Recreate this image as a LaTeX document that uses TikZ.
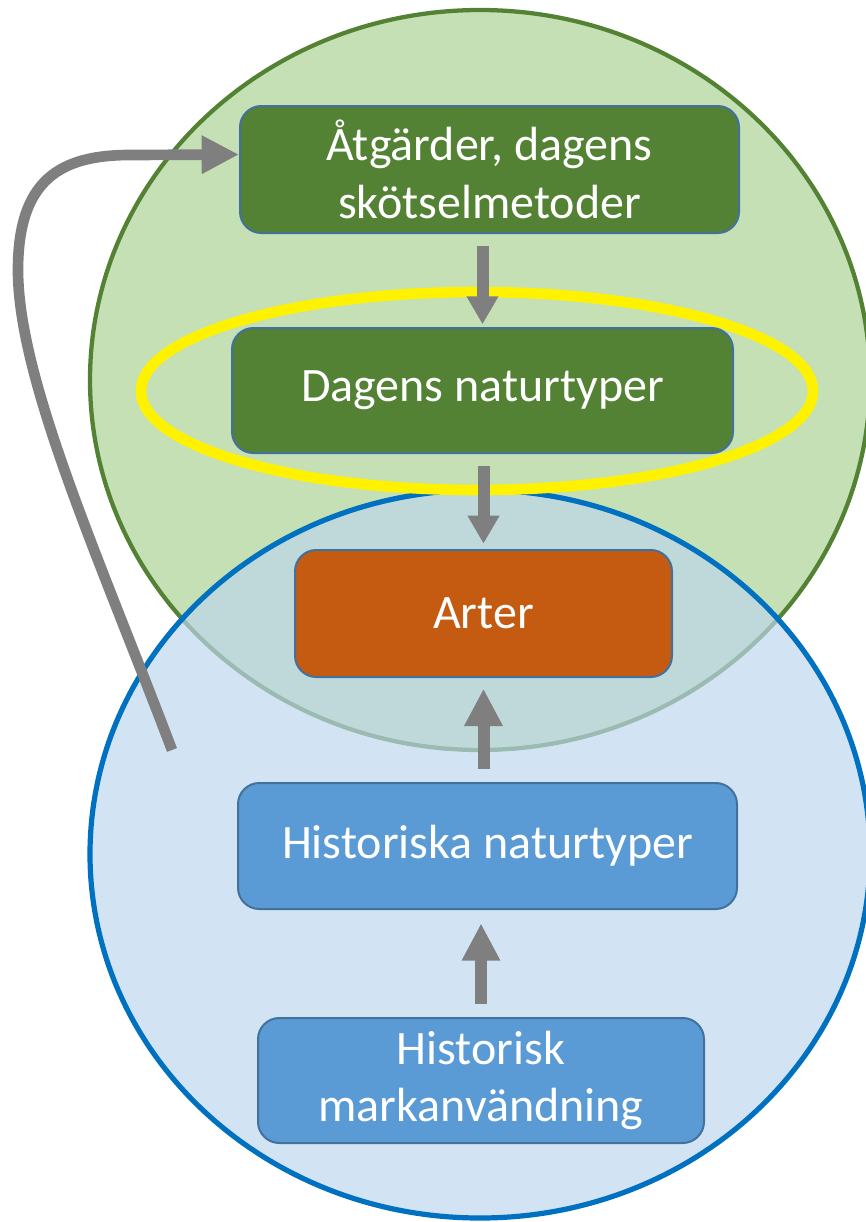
\documentclass[tikz,border=0pt]{standalone}
\usepackage{fontspec}
\setmainfont{Carlito}
\usetikzlibrary{arrows.meta}
\definecolor{gfill}{HTML}{C5E0B4}
\definecolor{gline}{HTML}{548235}
\definecolor{bfill}{HTML}{BDD7EE}
\definecolor{bline}{HTML}{0070C0}
\definecolor{boxline}{HTML}{41719C}
\definecolor{boxgreen}{HTML}{548235}
\definecolor{boxorange}{HTML}{C55A11}
\definecolor{boxblue}{HTML}{5B9BD5}
\definecolor{arrowgray}{HTML}{7F7F7F}
\begin{document}
\begin{tikzpicture}[x=0.75pt,y=-0.75pt,
 box/.style={draw=boxline, line width=1.5pt, rounded corners=16pt, text=white, align=center,
   font=\fontsize{36}{43}\selectfont, inner sep=0pt},
 downarrow/.style={draw=arrowgray, line width=9pt, -{Triangle[width=22.5pt,length=21pt]}},
 uparrow/.style={draw=arrowgray, line width=9pt, -{Triangle[width=27pt,length=28pt]}},
 looparrow/.style={draw=arrowgray, line width=8pt, -{Triangle[width=27pt,length=28pt]}},
]
\useasboundingbox (0,0) rectangle (866,1222);
\clip (0,0) rectangle (866,1222);
% circles
\draw[fill=gfill, draw=gline, line width=3.2pt] (480,380) ellipse [x radius=390, y radius=370];
\fill[bfill, fill opacity=0.68] (480,854) ellipse [x radius=390, y radius=364];
\draw[bline, line width=3.9pt] (480,854) ellipse [x radius=390, y radius=364];
% yellow highlight
\draw[yellow, line width=8pt] (477,391) ellipse [x radius=336, y radius=99];
% boxes
\node[box, fill=boxgreen, minimum width=374.25pt, minimum height=95.25pt] (b1) at (489.5,169.5) {Åtgärder, dagens\\skötselmetoder};
\node[box, fill=boxgreen, minimum width=375.75pt, minimum height=93.75pt] (b2) at (482.5,390.5) {Dagens naturtyper};
\node[box, fill=boxorange, minimum width=282.75pt, minimum height=95.25pt] (b3) at (483.5,613.5) {Arter};
\node[box, fill=boxblue, minimum width=374.25pt, minimum height=94.5pt] (b4) at (487.5,846) {Historiska naturtyper};
\node[box, fill=boxblue, minimum width=334.5pt, minimum height=93.75pt] (b5) at (481,1080.5) {Historisk\\markanvändning};
% arrows
\draw[downarrow, shorten <=9pt, shorten >=2pt] (b1.south -| b2.north) -- (b2.north);
\draw[downarrow, shorten <=9pt, shorten >=4pt] (b2.south -| b3.north) -- (b3.north);
\draw[uparrow, shorten <=10pt, shorten >=8pt] (b4.north -| b3.south) -- (b3.south);
\draw[uparrow, shorten <=10pt, shorten >=10pt] (b5.north) -- (b5.north |- b4.south);
% feedback loop arrow
\coordinate (loopstart) at (172,750);
\draw[looparrow] (loopstart) .. controls (100,560) and (18,380) .. (18,270)
  .. controls (18,180) and (60,155) .. (130,155) -- ([yshift=11.25pt]b1.west);
\end{tikzpicture}
\end{document}
